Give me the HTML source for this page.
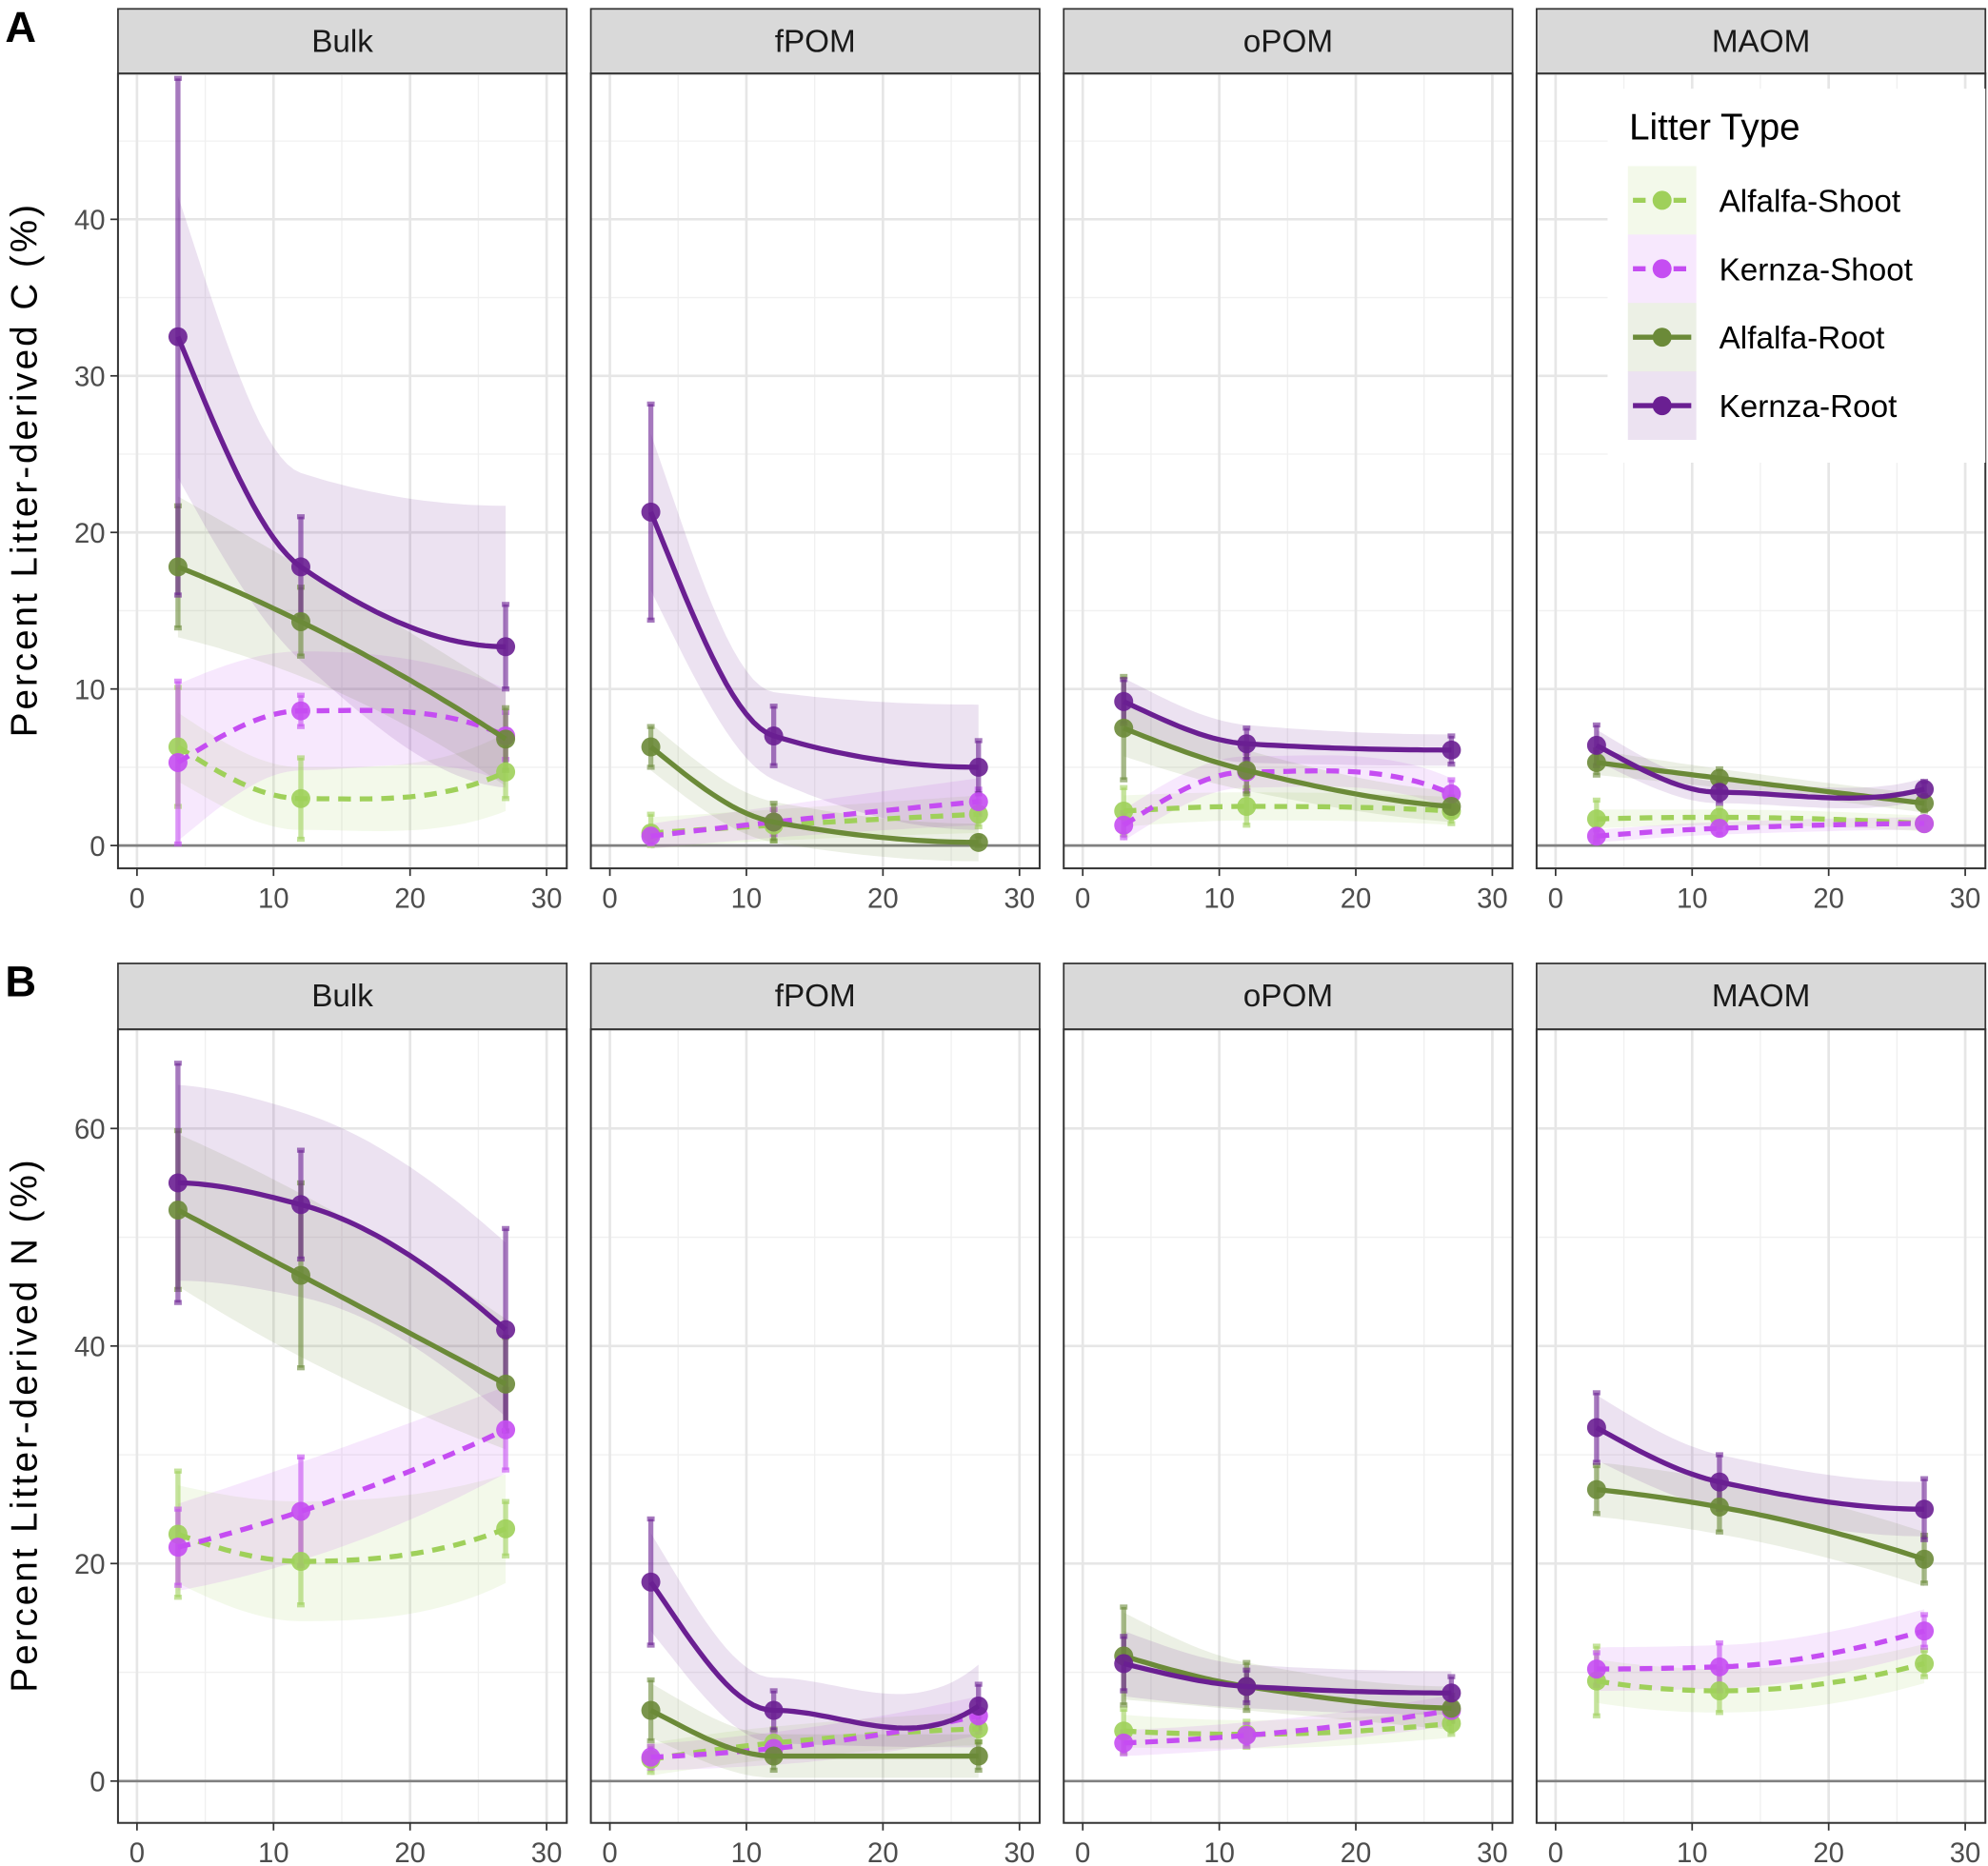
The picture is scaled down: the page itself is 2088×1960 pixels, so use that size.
<!DOCTYPE html>
<html><head><meta charset="utf-8"><style>
html,body{margin:0;padding:0;background:#fff}
svg{display:block}
text{font-family:"Liberation Sans",sans-serif}
</style></head><body>
<svg id="fig" width="2088" height="1960" viewBox="0 0 1568 1472" xmlns="http://www.w3.org/2000/svg"></svg>
<script>
const fractions=["Bulk","fPOM","oPOM","MAOM"];
const series=["Alfalfa-Shoot","Kernza-Shoot","Alfalfa-Root","Kernza-Root"];
const days=[3,12,27];
// Panel A (C) values [fraction][series][day]
const cVals=[
 [[6.3,3.0,4.7],[5.3,8.6,7.0],[17.8,14.3,6.8],[32.5,17.8,12.7]],
 [[0.8,1.3,2.0],[0.6,1.5,2.8],[6.3,1.5,0.2],[21.3,7.0,5.0]],
 [[2.2,2.5,2.2],[1.3,4.7,3.3],[7.5,4.8,2.5],[9.2,6.5,6.1]],
 [[1.7,1.8,1.4],[0.6,1.1,1.4],[5.3,4.3,2.7],[6.4,3.4,3.6]]];
const cErr=[
 [[3.8,2.6,1.7],[5.2,1.0,1.5],[3.9,2.2,2.0],[16.5,3.2,2.7]],
 [[1.2,1.0,0.8],[0.5,0.8,0.8],[1.3,1.2,0.4],[6.9,1.9,1.7]],
 [[1.5,1.2,0.8],[0.8,1.2,0.9],[3.3,1.5,0.6],[1.4,1.0,0.9]],
 [[1.2,0.6,0.4],[0.4,0.4,0.3],[0.8,0.6,0.5],[1.3,0.7,0.5]]];
const cBand=[
 [[2.2,2.0,2.5],[5.0,3.8,3.0],[4.5,3.5,3.0],[9.0,6.0,9.0]],
 [[1.0,1.0,1.2],[0.8,1.0,1.5],[1.5,1.3,1.2],[5.0,2.8,4.0]],
 [[1.0,0.9,0.9],[1.0,1.0,1.0],[1.8,1.3,1.0],[1.5,1.2,1.0]],
 [[0.6,0.5,0.5],[0.4,0.4,0.4],[0.8,0.6,0.6],[1.0,0.7,0.7]]];
// Panel B (N)
const nVals=[
 [[22.7,20.2,23.2],[21.5,24.8,32.3],[52.5,46.5,36.5],[55.0,53.0,41.5]],
 [[2.0,3.5,4.8],[2.2,3.0,6.0],[6.5,2.3,2.3],[18.3,6.5,6.9]],
 [[4.6,4.3,5.3],[3.5,4.2,6.5],[11.5,8.7,6.7],[10.8,8.7,8.1]],
 [[9.2,8.3,10.8],[10.3,10.5,13.8],[26.8,25.2,20.4],[32.5,27.5,25.0]]];
const nErr=[
 [[5.8,4.0,2.5],[3.5,5.0,3.7],[7.3,8.5,4.3],[11.0,5.0,9.3]],
 [[1.2,1.3,1.2],[1.0,1.2,1.5],[2.8,1.3,1.3],[5.8,1.8,2.0]],
 [[2.0,1.2,1.0],[1.0,1.0,1.0],[4.5,2.2,1.2],[2.5,1.5,1.5]],
 [[3.2,2.0,1.2],[1.5,2.2,1.5],[2.2,2.3,2.2],[3.2,2.5,2.8]]];
const nBand=[
 [[4.5,5.5,5.0],[4.0,4.5,4.0],[7.0,7.5,6.0],[9.0,8.5,8.0]],
 [[1.5,1.5,1.5],[1.2,1.5,1.8],[2.5,2.0,2.0],[4.5,3.0,3.8]],
 [[1.5,1.3,1.3],[1.2,1.2,1.4],[4.0,2.2,2.0],[3.0,2.0,2.0]],
 [[2.0,2.0,1.8],[2.0,2.0,2.0],[2.5,2.5,2.5],[3.0,2.5,2.5]]];
const cTicks=[0,10,20,30,40];
const nTicks=[0,20,40,60];
const xTicks=[0,10,20,30];
const colors=["#9fd05a","#c54df2","#6b8a38","#6a1f92"];
const dashed=[true,true,false,false];

const NS="http://www.w3.org/2000/svg";
const svg=document.getElementById('fig');
function el(tag,attrs,parent){const e=document.createElementNS(NS,tag);for(const k in attrs)e.setAttribute(k,attrs[k]);(parent||svg).appendChild(e);return e;}
const panelX=[93,466,839,1212], panelW=354;
// monotone cubic (PCHIP) through the three points
function interp(vals,x){
 const xs=days,ys=vals,n=3;const h=[],dl=[];
 for(let i=0;i<n-1;i++){h.push(xs[i+1]-xs[i]);dl.push((ys[i+1]-ys[i])/h[i]);}
 const m=[dl[0],0,dl[1]];
 if(dl[0]*dl[1]>0){const w1=2*h[1]+h[0],w2=h[1]+2*h[0];m[1]=(w1+w2)/(w1/dl[0]+w2/dl[1]);}
 // end slopes
 m[0]=((2*h[0]+h[1])*dl[0]-h[0]*dl[1])/(h[0]+h[1]); if(Math.sign(m[0])!==Math.sign(dl[0]))m[0]=0;
 m[2]=((2*h[1]+h[0])*dl[1]-h[1]*dl[0])/(h[0]+h[1]); if(Math.sign(m[2])!==Math.sign(dl[1]))m[2]=0;
 const i=x<xs[1]?0:1;const t=(x-xs[i])/h[i];
 const h00=2*t*t*t-3*t*t+1,h10=t*t*t-2*t*t+t,h01=-2*t*t*t+3*t*t,h11=t*t*t-t*t;
 return h00*ys[i]+h10*h[i]*m[i]+h01*ys[i+1]+h11*h[i]*m[i+1];
}

function drawRow(rowName,stripTop,plotTop,plotBot,yZero,yScale,yTicks,minorStep,vals,errs,bands,label,ytitle){
 const g=el('g',{});
 el('text',{x:4,y:stripTop+26,'font-size':34,'font-weight':'bold',fill:'#000'},g).textContent=label;
 const yT=el('text',{transform:`translate(29,${(plotTop+plotBot)/2}) rotate(-90)`,'text-anchor':'middle','font-size':29,'textLength':420,fill:'#000'},g);
 yT.textContent=ytitle;
 const ymax=(yZero-plotTop)/yScale;
 fractions.forEach((fr,fi)=>{
  const px=panelX[fi];
  const sx=x=>px+15+x*10.77;
  const sy=v=>yZero-v*yScale;
  const pg=el('g',{},g);
  const st=el('rect',{x:px,y:stripTop,width:panelW,height:plotTop-stripTop,fill:'#d9d9d9',stroke:'#333','stroke-width':1.3},pg);
  
  el('text',{x:px+panelW/2,y:stripTop+34,'text-anchor':'middle','font-size':25,fill:'#1a1a1a'},pg).textContent=fr;
  for(let v=minorStep;v<ymax;v+=minorStep*2) el('line',{x1:px,x2:px+panelW,y1:sy(v),y2:sy(v),stroke:'#f0f0f0','stroke-width':1},pg);
  for(let x=5;x<32;x+=10) el('line',{x1:sx(x),x2:sx(x),y1:plotTop,y2:plotBot,stroke:'#f0f0f0','stroke-width':1},pg);
  yTicks.forEach(v=>el('line',{x1:px,x2:px+panelW,y1:sy(v),y2:sy(v),stroke:'#e6e6e6','stroke-width':2},pg));
  xTicks.forEach(x=>el('line',{x1:sx(x),x2:sx(x),y1:plotTop,y2:plotBot,stroke:'#e6e6e6','stroke-width':2},pg));
  el('line',{x1:px,x2:px+panelW,y1:sy(0),y2:sy(0),stroke:'#808080','stroke-width':2},pg);
  series.forEach((s,si)=>{
   const v=vals[fi][si],b=bands[fi][si];
   const up=days.map((d,i)=>v[i]+b[i]),lo=days.map((d,i)=>v[i]-b[i]);
   let d='';for(let x=3;x<=27.001;x+=0.5)d+=(d?'L':'M')+sx(x).toFixed(1)+','+Math.max(sy(interp(up,x)),plotTop).toFixed(1);
   for(let x=27;x>=2.999;x-=0.5)d+='L'+sx(x).toFixed(1)+','+Math.min(sy(interp(lo,x)),plotBot).toFixed(1);
   const r=el('path',{d:d+'Z',fill:colors[si],'fill-opacity':0.13},pg);
   
  });
  series.forEach((s,si)=>{
   days.forEach((dd,i)=>{
    const v=vals[fi][si][i],e=errs[fi][si][i];
    const t=Math.max(sy(v+e),plotTop),bt=Math.min(sy(Math.max(v-e,0)),plotBot);
    const eb=el('g',{stroke:colors[si],'stroke-opacity':0.6,'stroke-width':4},pg);
    
    el('line',{x1:sx(dd),x2:sx(dd),y1:t,y2:bt},eb);
    el('line',{x1:sx(dd)-3,x2:sx(dd)+3,y1:t,y2:t},eb);
    el('line',{x1:sx(dd)-3,x2:sx(dd)+3,y1:bt,y2:bt},eb);
   });
  });
  series.forEach((s,si)=>{
   const v=vals[fi][si];
   let d='';for(let x=3;x<=27.001;x+=0.5)d+=(d?'L':'M')+sx(x).toFixed(1)+','+sy(interp(v,x)).toFixed(1);
   const ln=el('path',{d,fill:'none',stroke:colors[si],'stroke-width':4,'stroke-dasharray':dashed[si]?'10 7':'none'},pg);
   
   days.forEach((dd,i)=>{
    const c=el('circle',{cx:sx(dd),cy:sy(v[i]),r:7.5,fill:colors[si],'fill-opacity':0.9},pg);
    
   });
  });
  el('rect',{x:px,y:plotTop,width:panelW,height:plotBot-plotTop,fill:'none',stroke:'#333','stroke-width':1.5},pg);
  xTicks.forEach(x=>{el('line',{x1:sx(x),x2:sx(x),y1:plotBot,y2:plotBot+6,stroke:'#333','stroke-width':1.3},pg);
   el('text',{x:sx(x),y:plotBot+31,'text-anchor':'middle','font-size':22,fill:'#4d4d4d'},pg).textContent=x;});
  if(fi===0) yTicks.forEach(v=>{el('line',{x1:px-6,x2:px,y1:sy(v),y2:sy(v),stroke:'#333','stroke-width':1.3},pg);
   el('text',{x:px-10,y:sy(v)+8,'text-anchor':'end','font-size':22,fill:'#4d4d4d'},pg).textContent=v;});
 });
}
drawRow('panel-a-carbon',7,58,685,667,12.35,cTicks,5,cVals,cErr,cBand,'A','Percent Litter-derived C (%)');
drawRow('panel-b-nitrogen',760,812,1438,1405,8.58,nTicks,10,nVals,nErr,nBand,'B','Percent Litter-derived N (%)');
const lg=el('g',{});
el('rect',{x:1268,y:70,width:298,height:295,fill:'#fff'},lg);
el('text',{x:1285,y:110,'font-size':29,fill:'#000'},lg).textContent='Litter Type';
series.forEach((s,si)=>{
 const y=158+si*54;
 const e=el('g',{},lg);
 el('rect',{x:1284,y:y-27,width:54,height:54,fill:colors[si],'fill-opacity':0.13},e);
 el('line',{x1:1288,x2:1334,y1:y,y2:y,stroke:colors[si],'stroke-width':4,'stroke-dasharray':dashed[si]?'10 6':'none'},e);
 el('circle',{cx:1311,cy:y,r:7.5,fill:colors[si]},e);
 el('text',{x:1356,y:y+9,'font-size':25,fill:'#000'},e).textContent=s;
});
</script>
</body></html>
